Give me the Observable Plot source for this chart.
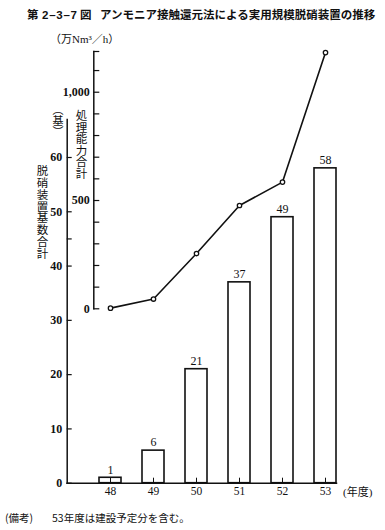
<!DOCTYPE html>
<html><head><meta charset="utf-8">
<script src="https://cdn.jsdelivr.net/npm/d3@7"></script>
<script src="https://cdn.jsdelivr.net/npm/@observablehq/plot@0.6"></script>
<style>
html,body{margin:0;padding:0;background:#fff;}
#wrap{position:relative;width:385px;height:530px;overflow:hidden;font-family:"Noto Sans CJK JP",sans-serif;color:#111;}
#wrap svg{position:absolute;left:0;top:0;}
.t{position:absolute;white-space:nowrap;line-height:1;}
.v{writing-mode:vertical-rl;}
.serif{font-family:"Liberation Serif","Noto Sans CJK JP",serif;}
.num{display:flex;justify-content:space-between;width:35px;font-family:'Liberation Sans',sans-serif;}
</style></head><body>
<div id="wrap">
  <div class="t" style="left:27px;top:9px;font-size:11.5px;font-weight:bold;">第</div>
  <div class="t num" style="left:42px;top:9.5px;font-size:11.5px;font-weight:bold;"><span>2</span><span>–</span><span>3</span><span>–</span><span>7</span></div>
  <div class="t" style="left:80px;top:9px;font-size:11.5px;font-weight:bold;">図</div>
  <div class="t" style="left:100px;top:9px;font-size:11.5px;font-weight:bold;">アンモニア接触還元法による実用規模脱硝装置の推移</div>
  <div class="t serif" style="left:50px;top:34px;font-size:11px;">（万Nm³／h）</div>
  <div class="t v" style="left:52px;top:104px;font-size:11px;">（基）</div>
  <div class="t v" style="left:36px;top:165px;font-size:11.5px;letter-spacing:0.3px;">脱硝装置基数合計</div>
  <div class="t v" style="left:75px;top:110px;font-size:11.5px;">処理能力合計</div>
  <div class="t serif" style="left:343px;top:487px;font-size:11px;">(年度)</div>
  <div class="t" style="left:5px;top:513px;font-size:10.5px;">(備考)</div>
  <div class="t" style="left:52px;top:513px;font-size:10.5px;">53年度は建設予定分を含む。</div>
</div>
<script>
// ---- data ----
const years = ["48", "49", "50", "51", "52", "53"];
const unitCounts = [1, 6, 21, 37, 49, 58];            // 脱硝装置基数合計 (基)
const capacity = [3, 45, 255, 477, 585, 1183];         // 処理能力合計 (万Nm3/h)
const countTicks = [0, 10, 20, 30, 40, 50, 60];
const countMinorTicks = [45];
const capTicks = [0, 100, 200, 300, 400, 500, 600, 700, 800, 900, 1000, 1100, 1188];
const capLabelTicks = [0, 500, 1000];

const bars = years.map((y, i) => ({year: y, count: unitCounts[i]}));
const pts = years.map((y, i) => ({year: y, cap: capacity[i]}));

const W = 385, H = 530;
const ax0 = 66.7, ax1 = 336;
const base1 = 482.7, top1 = 119;
const xScale = {type: "band", domain: years, range: [ax0, ax1], paddingInner: 0.494, paddingOuter: 0.345, align: 1};
const fw1 = ax1 - ax0, fh1 = base1 - top1;
const serif = "Liberation Serif";

const p1 = Plot.plot({
  width: W, height: H,
  marginLeft: ax0, marginRight: W - ax1, marginTop: top1, marginBottom: H - base1,
  x: xScale,
  y: {domain: [0, 67]},
  style: {fontFamily: serif, fontSize: "12px", color: "#111", background: "transparent", overflow: "visible"},
  marks: [
    Plot.barY(bars, {x: "year", y: "count", fill: "white", stroke: "#111", strokeWidth: 1.6}),
    Plot.text(bars, {x: "year", y: "count", text: d => String(d.count), dy: -8, fontSize: 12, fill: "#111"}),
    Plot.tickX(years, {x: d => d, stroke: "#111", insetTop: fh1 - 5}),
    Plot.tickY(countTicks.concat(countMinorTicks), {y: d => d, stroke: "#111", strokeWidth: 1.2, insetRight: fw1 - 5}),
    Plot.frame({anchor: "left", stroke: "#111", strokeWidth: 1.5}),
    Plot.frame({anchor: "bottom", stroke: "#111", strokeWidth: 1.5}),
    Plot.axisY({ticks: countTicks, tickSize: 0, tickPadding: 5, label: null, fontSize: 12, fontWeight: "bold"}),
    Plot.axisX({tickSize: 0, tickPadding: 4, label: null, fontSize: 11.5})
  ]
});

const ay = 93.3, base2 = 308.3, top2 = 51;
const p2 = Plot.plot({
  width: W, height: H,
  marginLeft: ay, marginRight: W - ay - 6, marginTop: top2, marginBottom: H - base2,
  x: {...xScale, axis: null},
  y: {domain: [0, 1188]},
  style: {fontFamily: serif, fontSize: "12px", color: "#111", background: "transparent", overflow: "visible"},
  marks: [
    Plot.frame({anchor: "left", stroke: "#111", strokeWidth: 1.5}),
    Plot.tickY(capTicks, {y: d => d, stroke: "#111", strokeWidth: 1.2}),
    Plot.axisY({ticks: capLabelTicks, tickSize: 0, tickPadding: 4, tickFormat: d3.format(","), label: null, fontSize: 12, fontWeight: "bold"}),
    Plot.line(pts, {x: "year", y: "cap", stroke: "#111", strokeWidth: 1.6}),
    Plot.dot(pts, {x: "year", y: "cap", r: 2.2, fill: "white", stroke: "#111", strokeWidth: 1.3})
  ]
});

const wrap = document.getElementById("wrap");
wrap.appendChild(p1);
wrap.appendChild(p2);
</script>
</body></html>
